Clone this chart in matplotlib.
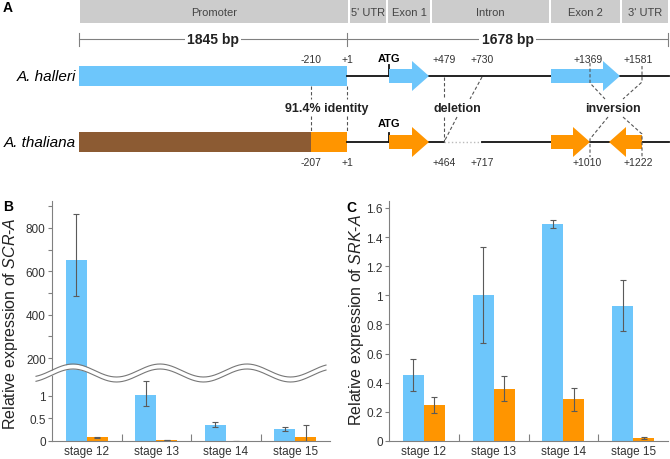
import matplotlib
matplotlib.use('Agg')
import matplotlib.pyplot as plt
import numpy as np

plt.rcParams['font.family'] = ['Liberation Sans', 'DejaVu Sans']
plt.rcParams['mathtext.fontset'] = 'custom'
plt.rcParams['mathtext.it'] = 'Liberation Sans:italic'
plt.rcParams['mathtext.rm'] = 'Liberation Sans'

BLUE = '#6dc6fb'
ORANGE = '#ff9500'
BROWN = '#8c5b33'
AXIS = '#808080'

# --- panel A: gene model (schematic units = pixels of the diagram) ---
regions = ['Promoter', "5' UTR", 'Exon 1', 'Intron', 'Exon 2', "3' UTR"]
region_edges = [79, 349, 387, 431, 550, 621, 669]
bp_edges = [79, 347, 668]
bp_labels = ['1845 bp', '1678 bp']

halleri_marks = ['-210', '+1', '+479', '+730', '+1369', '+1581']
halleri_mark_x = [311, 347, 444, 482, 588, 638]
thaliana_marks = ['-207', '+1', '+464', '+717', '+1010', '+1222']
thaliana_mark_x = [311, 347, 444, 482, 587, 638]

# --- panel B: SCR-A expression ---
stages = ['stage 12', 'stage 13', 'stage 14', 'stage 15']
scr_halleri = [650, 1.02, 0.36, 0.27]
scr_halleri_lo = [166, 0.235, 0.05, 0.04]
scr_halleri_hi = [216, 0.306, 0.06, 0.05]
scr_thaliana = [0.08, 0.02, 0.0, 0.09]
scr_thaliana_lo = [0.005, 0.004, 0.0, 0.09]
scr_thaliana_hi = [0.005, 0.004, 0.0, 0.265]

# --- panel C: SRK-A expression ---
srk_halleri = [0.45, 1.0, 1.49, 0.93]
srk_halleri_err = [0.11, 0.33, 0.025, 0.175]
srk_thaliana = [0.245, 0.36, 0.285, 0.02]
srk_thaliana_err = [0.055, 0.085, 0.08, 0.008]

W, H = 670, 460
fig = plt.figure(figsize=(W / 100, H / 100), dpi=100)


def px_axes(x0, y0, x1, y1):
    return fig.add_axes([x0 / W, 1 - y1 / H, (x1 - x0) / W, (y1 - y0) / H])


def style_axes(ax):
    for s in ('top', 'right'):
        ax.spines[s].set_visible(False)
    for s in ('left', 'bottom'):
        ax.spines[s].set_color(AXIS)
        ax.spines[s].set_linewidth(0.8)
    ax.tick_params(axis='both', colors=AXIS, labelcolor='#333333',
                   labelsize=8.5, width=0.8)
    ax.tick_params(axis='y', length=3, pad=1.5)


def draw_bars(ax, a, a_err, b, b_err):
    x = np.arange(len(stages))
    ekw = dict(ecolor='#5a5a5a', elinewidth=0.8, capsize=2, capthick=0.8)
    ax.bar(x - 0.15, a, 0.3, color=BLUE, yerr=a_err, error_kw=ekw)
    ax.bar(x + 0.15, b, 0.3, color=ORANGE, yerr=b_err, error_kw=ekw)
    ax.set_xlim(-0.5, len(stages) - 0.5)


def stage_axis(ax):
    ax.set_xticks(np.arange(len(stages)))
    ax.set_xticklabels(stages)
    ax.set_xticks(np.arange(len(stages) - 1) + 0.5, minor=True)
    ax.tick_params(axis='x', which='major', length=0, pad=3)
    ax.tick_params(axis='x', which='minor', direction='in', length=5,
                   color=AXIS, width=0.8)


# Panel B: broken axis
axU = px_axes(52, 202, 330, 373)
axL = px_axes(52, 373, 330, 442)
for ax in (axU, axL):
    draw_bars(ax, scr_halleri, [scr_halleri_lo, scr_halleri_hi],
              scr_thaliana, [scr_thaliana_lo, scr_thaliana_hi])
    style_axes(ax)
axU.set_ylim(135.4, 924.6)
axU.set_yticks([200, 400, 600, 800])
axU.set_yticks([300, 500, 700, 900], minor=True)
axU.tick_params(axis='y', which='minor', length=3, color=AXIS, width=0.8)
axU.spines['bottom'].set_visible(False)
axU.set_xticks([])
axL.set_ylim(0, 1.533)
axL.set_yticks([0, 0.5, 1])
axL.set_yticklabels(['0', '0.5', '1'])
stage_axis(axL)

# Panel C
axC = px_axes(389, 202, 668, 442)
draw_bars(axC, srk_halleri, srk_halleri_err, srk_thaliana, srk_thaliana_err)
style_axes(axC)
axC.set_ylim(0, 1.648)
yt = [0, 0.2, 0.4, 0.6, 0.8, 1.0, 1.2, 1.4, 1.6]
axC.set_yticks(yt)
axC.set_yticklabels(['0', '0.2', '0.4', '0.6', '0.8', '1', '1.2', '1.4', '1.6'])
stage_axis(axC)

# overlay in pixel coordinates for the schematic and the axis break
ov = fig.add_axes([0, 0, 1, 1])
ov.set_xlim(0, W)
ov.set_ylim(H, 0)
ov.axis('off')
ov.patch.set_alpha(0)
ov.set_zorder(10)

fig.text(11 / W, 1 - 324 / H, r'Relative expression of $\it{SCR}$-$\it{A}$',
         rotation=90, ha='center', va='center', fontsize=11.5, color='#222222')
fig.text(356 / W, 1 - 320 / H, r'Relative expression of $\it{SRK}$-$\it{A}$',
         rotation=90, ha='center', va='center', fontsize=11.5, color='#222222')

ov.text(8, 8, 'A', fontsize=10, fontweight='bold', ha='center', va='center')
ov.text(8, 207, 'B', fontsize=10, fontweight='bold', ha='center', va='center')
ov.text(351, 208, 'C', fontsize=10, fontweight='bold', ha='center', va='center')

# wavy break
xs = np.linspace(36, 326, 400)
yc = 374 - 6.5 * np.cos(2 * np.pi * (xs - 73) / 87)
ov.fill_between(xs, yc - 2.5, yc + 2.5, color='white', lw=0)
ov.plot(xs, yc - 2.5, color='#777777', lw=0.8)
ov.plot(xs, yc + 2.5, color='#777777', lw=0.8)

# header boxes
for i, name in enumerate(regions):
    x0, x1 = region_edges[i] + 1, region_edges[i + 1] - 1
    ov.fill([x0, x1, x1, x0], [1, 1, 24, 24], color='#cccccc', lw=0)
    ov.text((x0 + x1) / 2, 12.5, name, fontsize=8, color='#444444',
            ha='center', va='center')

# bp scale
ov.plot([bp_edges[0], bp_edges[-1]], [40, 40], color=AXIS, lw=0.8)
for xb in bp_edges:
    ov.plot([xb, xb], [34, 47], color=AXIS, lw=0.8)
for i, lab in enumerate(bp_labels):
    ov.text((bp_edges[i] + bp_edges[i + 1]) / 2, 40, lab, fontsize=10,
            fontweight='bold', ha='center', va='center', color='#222222',
            bbox=dict(facecolor='white', edgecolor='none', pad=1.5))


def arrow(x0, x1, y, color, reverse=False):
    head, body, hh = 17, 7, 15
    if not reverse:
        px = [x0, x1 - head, x1 - head, x1, x1 - head, x1 - head, x0]
    else:
        px = [x1, x0 + head, x0 + head, x0, x0 + head, x0 + head, x1]
    py = [y - body, y - body, y - hh, y, y + hh, y + body, y + body]
    ov.fill(px, py, color=color, lw=0, zorder=3)


def line(x0, x1, y, **kw):
    opts = dict(color='#111111', lw=1.3, zorder=2)
    opts.update(kw)
    ov.plot([x0, x1], [y, y], **opts)


def dash(pts):
    ov.plot([p[0] for p in pts], [p[1] for p in pts], color='#555555',
            lw=0.8, ls=(0, (3, 2)), zorder=4)


# A. halleri
yh = 77
ov.text(76, yh, 'A. halleri', fontsize=11, fontstyle='italic',
        ha='right', va='center')
ov.fill([79, 347, 347, 79], [yh - 10, yh - 10, yh + 10, yh + 10], color=BLUE, lw=0)
line(347, 669, yh)
ov.plot([389, 389], [yh - 11, yh], color='#111111', lw=1.3)
ov.text(389, 59, 'ATG', fontsize=8, fontweight='bold', ha='center', va='center')
arrow(389, 429, yh, BLUE)
arrow(551, 620, yh, BLUE)
for lab, xm in zip(halleri_marks, halleri_mark_x):
    ov.text(xm, 60, lab, fontsize=7.5, color='#333333', ha='center', va='center')

# A. thaliana
yt_ = 143
ov.text(76, yt_, 'A. thaliana', fontsize=11, fontstyle='italic',
        ha='right', va='center')
ov.fill([79, 311, 311, 79], [yt_ - 10, yt_ - 10, yt_ + 10, yt_ + 10], color=BROWN, lw=0)
ov.fill([311, 347, 347, 311], [yt_ - 10, yt_ - 10, yt_ + 10, yt_ + 10], color=ORANGE, lw=0)
line(347, 444, yt_)
line(444, 482, yt_, color='#bbbbbb', lw=1.0, ls=':')
line(482, 669, yt_)
ov.plot([389, 389], [yt_ - 9, yt_], color='#111111', lw=1.3)
ov.text(389, 124, 'ATG', fontsize=8, fontweight='bold', ha='center', va='center')
arrow(389, 429, yt_, ORANGE)
arrow(551, 590, yt_, ORANGE)
arrow(609, 642, yt_, ORANGE, reverse=True)
for lab, xm in zip(thaliana_marks, thaliana_mark_x):
    ov.text(xm, 163, lab, fontsize=7.5, color='#333333', ha='center', va='center')

# correspondence lines
dash([(311, 87), (311, 100)])
dash([(347, 87), (347, 100)])
dash([(311, 117), (311, 132)])
dash([(347, 117), (347, 132)])
dash([(444, 78), (444, 100)])
dash([(482, 78), (470, 100)])
dash([(444, 118), (444, 143)])
dash([(457, 118), (444, 143)])
dash([(590, 64), (590, 84), (605, 100)])
dash([(642, 67), (642, 83), (623, 100)])
dash([(608, 118), (590, 140), (590, 158)])
dash([(623, 118), (642, 135), (642, 158)])
for txt, xt in (('91.4% identity', 327), ('deletion', 457), ('inversion', 613)):
    ov.text(xt, 109, txt, fontsize=9, fontweight='bold', color='#222222',
            ha='center', va='center')

fig.savefig('out.png', dpi=100)
